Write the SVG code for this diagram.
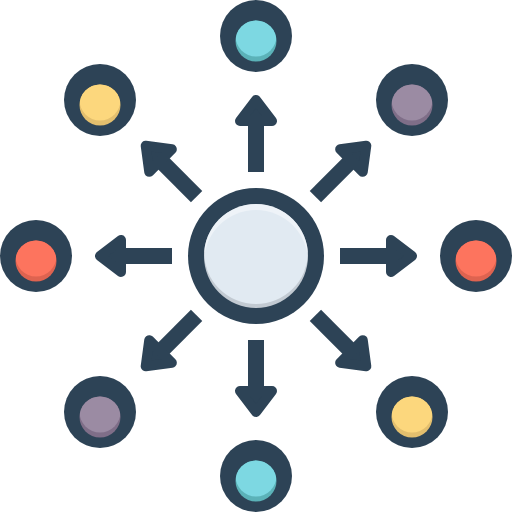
<svg xmlns="http://www.w3.org/2000/svg" width="512" height="512" viewBox="0 0 512 512">
<style>
.dark{fill:#2D4356}
.arrow path{fill:#2D4356;stroke:#2D4356;stroke-width:10;stroke-linejoin:round}
.arrow rect{fill:#2D4356}
</style>
<defs>
<g id="arr" class="arrow">
<rect x="-8" y="-132" width="16" height="48"/>
<path d="M0,-156 L16,-135 L-16,-135 Z"/>
</g>
<clipPath id="cc"><circle cx="256" cy="256" r="52"/></clipPath>
<clipPath id="cm"><circle cx="256" cy="262" r="52"/></clipPath>
<clipPath id="nc"><circle cx="0" cy="5" r="20.5"/></clipPath>
<g id="node-cyan"><circle r="36" class="dark"/><circle cy="5" r="20.5" fill="#5BB2B8"/><circle r="20.5" fill="#7DD8E2" clip-path="url(#nc)"/></g>
<g id="node-yellow"><circle r="36" class="dark"/><circle cy="5" r="20.5" fill="#E3BF6E"/><circle r="20.5" fill="#FCD77D" clip-path="url(#nc)"/></g>
<g id="node-purple"><circle r="36" class="dark"/><circle cy="5" r="20.5" fill="#7F6E88"/><circle r="20.5" fill="#9B8BA3" clip-path="url(#nc)"/></g>
<g id="node-red"><circle r="36" class="dark"/><circle cy="5" r="20.5" fill="#DE6350"/><circle r="20.5" fill="#FD745E" clip-path="url(#nc)"/></g>
</defs>
<g id="connectors" transform="translate(256 256)">
<use href="#arr" transform="rotate(0)"/>
<use href="#arr" transform="rotate(45)"/>
<use href="#arr" transform="rotate(90)"/>
<use href="#arr" transform="rotate(135)"/>
<use href="#arr" transform="rotate(180)"/>
<use href="#arr" transform="rotate(225)"/>
<use href="#arr" transform="rotate(270)"/>
<use href="#arr" transform="rotate(315)"/>
</g>
<g id="center">
<circle cx="256" cy="256" r="68" class="dark"/>
<circle cx="256" cy="256" r="52" fill="#C2CAD2"/>
<circle cx="256" cy="246" r="52" fill="#EEF3F8" clip-path="url(#cc)"/>
<circle cx="256" cy="252" r="52" fill="#E1EAF2" clip-path="url(#cm)"/>
</g>
<g id="n-top"><use href="#node-cyan" x="256" y="36"/></g>
<g id="n-topright"><use href="#node-purple" x="412" y="100"/></g>
<g id="n-right"><use href="#node-red" x="476" y="256"/></g>
<g id="n-bottomright"><use href="#node-yellow" x="412" y="412"/></g>
<g id="n-bottom"><use href="#node-cyan" x="256" y="476"/></g>
<g id="n-bottomleft"><use href="#node-purple" x="100" y="412"/></g>
<g id="n-left"><use href="#node-red" x="36" y="256"/></g>
<g id="n-topleft"><use href="#node-yellow" x="100" y="100"/></g>
</svg>
